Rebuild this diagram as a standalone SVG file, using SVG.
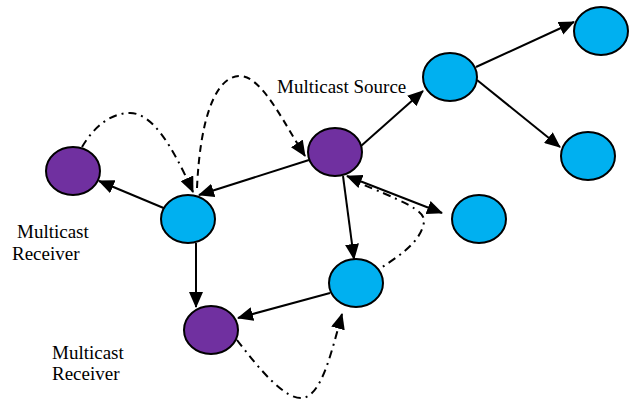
<svg xmlns="http://www.w3.org/2000/svg" width="631" height="403" viewBox="0 0 631 403">
<style>
.blue{fill:#00B0F0;stroke:#000;stroke-width:2}
.purple{fill:#7030A0;stroke:#000;stroke-width:2}
.e{fill:none;stroke:#000;stroke-width:2}
.dash{fill:none;stroke:#000;stroke-width:2;stroke-dasharray:7,5}
.dd{fill:none;stroke:#000;stroke-width:2;stroke-dasharray:8,5,2,5}
.lbl{font-family:"Liberation Serif","Times New Roman",serif;font-size:19px;fill:#000}
</style>
<defs>
<marker id="ah" markerWidth="16" markerHeight="14" refX="15" refY="7" orient="auto" markerUnits="userSpaceOnUse"><path d="M0,0 L16,7 L0,14 Z" fill="#000"/></marker>
<marker id="as" markerWidth="16" markerHeight="14" refX="1" refY="7" orient="auto" markerUnits="userSpaceOnUse"><path d="M16,0 L0,7 L16,14 Z" fill="#000"/></marker>
</defs>
<g id="connectors">
<line class="e" x1="166" y1="209" x2="99" y2="181" marker-end="url(#ah)"/>
<line class="e" x1="309" y1="160" x2="199" y2="195" marker-end="url(#ah)"/>
<line class="e" x1="361" y1="146" x2="423" y2="91" marker-end="url(#ah)"/>
<line class="e" x1="476" y1="67" x2="574" y2="22" marker-end="url(#ah)"/>
<line class="e" x1="477" y1="80" x2="560" y2="147" marker-end="url(#ah)"/>
<line class="e" x1="343" y1="176" x2="354" y2="259" marker-end="url(#ah)"/>
<line class="e" x1="347" y1="176" x2="442" y2="213" marker-start="url(#as)" marker-end="url(#ah)"/>
<line class="e" x1="196" y1="243" x2="196" y2="307" marker-end="url(#ah)"/>
<line class="e" x1="330" y1="293" x2="238" y2="318" marker-end="url(#ah)"/>
<path class="dash" d="M197,188 C200,120 215,76 240,76 C262,76 285,125 305,156" marker-end="url(#ah)"/>
<path class="dd" d="M82,147 C95,125 112,113 130,113 C152,113 172,145 193,192" marker-end="url(#ah)"/>
<path class="dd" d="M237,340 C260,370 285,400 303,398 C322,395 332,350 342,314" marker-end="url(#ah)"/>
<path class="dd" d="M372,274 C395,258 420,245 424,222 C426,210 400,200 352,180"/>
</g>
<g id="nodeA"><ellipse class="purple" cx="73" cy="171" rx="27" ry="24"/></g>
<g id="nodeB"><ellipse class="blue" cx="188" cy="219" rx="27" ry="24"/></g>
<g id="nodeC"><ellipse class="purple" cx="335" cy="152" rx="27" ry="24"/></g>
<g id="nodeD"><ellipse class="blue" cx="450" cy="77" rx="27" ry="24"/></g>
<g id="nodeE"><ellipse class="blue" cx="601" cy="31" rx="27" ry="24"/></g>
<g id="nodeF"><ellipse class="blue" cx="588" cy="156" rx="27" ry="24"/></g>
<g id="nodeG"><ellipse class="blue" cx="479" cy="219" rx="27" ry="24"/></g>
<g id="nodeH"><ellipse class="blue" cx="356" cy="283" rx="27" ry="24"/></g>
<g id="nodeI"><ellipse class="purple" cx="211" cy="330" rx="27" ry="24"/></g>
<g id="labels">
<text class="lbl" x="277" y="93">Multicast Source</text>
<text class="lbl" x="17" y="238">Multicast</text>
<text class="lbl" x="12" y="260">Receiver</text>
<text class="lbl" x="52" y="359">Multicast</text>
<text class="lbl" x="52" y="380">Receiver</text>
</g>
</svg>
